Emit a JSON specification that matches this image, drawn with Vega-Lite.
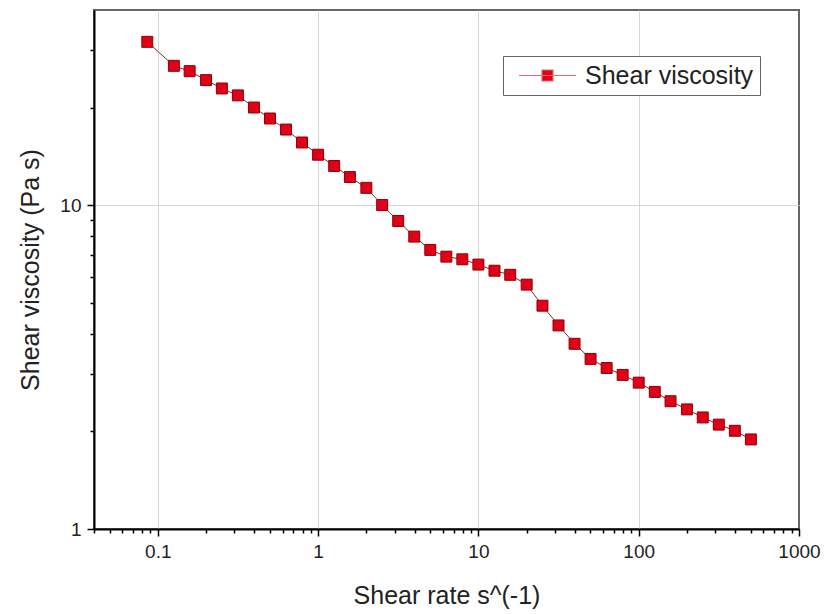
{
  "$schema": "https://vega.github.io/schema/vega-lite/v6.json",
  "width": 705,
  "height": 519,
  "autosize": {"type": "none"},
  "padding": {"left": 94, "top": 10, "right": 26, "bottom": 85},
  "background": "white",
  "config": {
    "font": "Liberation Sans",
    "view": {"stroke": "#666666", "strokeWidth": 2}
  },
  "data": {
    "values": [
      {"rate": 0.086, "visc": 31.9},
      {"rate": 0.126, "visc": 26.9},
      {"rate": 0.158, "visc": 25.9},
      {"rate": 0.2, "visc": 24.3},
      {"rate": 0.251, "visc": 22.9},
      {"rate": 0.316, "visc": 21.8},
      {"rate": 0.398, "visc": 20.0},
      {"rate": 0.501, "visc": 18.5},
      {"rate": 0.631, "visc": 17.1},
      {"rate": 0.794, "visc": 15.6},
      {"rate": 1, "visc": 14.3},
      {"rate": 1.26, "visc": 13.2},
      {"rate": 1.58, "visc": 12.2},
      {"rate": 2, "visc": 11.3},
      {"rate": 2.51, "visc": 10.0},
      {"rate": 3.16, "visc": 8.93},
      {"rate": 3.98, "visc": 7.99},
      {"rate": 5.01, "visc": 7.27},
      {"rate": 6.31, "visc": 6.93},
      {"rate": 7.94, "visc": 6.80},
      {"rate": 10, "visc": 6.55},
      {"rate": 12.6, "visc": 6.27},
      {"rate": 15.8, "visc": 6.09},
      {"rate": 20, "visc": 5.68},
      {"rate": 25.1, "visc": 4.89},
      {"rate": 31.6, "visc": 4.25},
      {"rate": 39.8, "visc": 3.73},
      {"rate": 50.1, "visc": 3.35},
      {"rate": 63.1, "visc": 3.14},
      {"rate": 79.4, "visc": 2.99},
      {"rate": 100, "visc": 2.83},
      {"rate": 126, "visc": 2.65},
      {"rate": 158, "visc": 2.48},
      {"rate": 200, "visc": 2.34},
      {"rate": 251, "visc": 2.21},
      {"rate": 316, "visc": 2.10},
      {"rate": 398, "visc": 2.01},
      {"rate": 501, "visc": 1.89}
    ]
  },
  "encoding": {
    "x": {
      "field": "rate",
      "type": "quantitative",
      "scale": {"type": "log", "domain": [0.04, 1000], "nice": false},
      "axis": {
        "title": "Shear rate s^(-1)",
        "titleFontSize": 25,
        "titleFontWeight": "normal",
        "titleColor": "#222222",
        "titlePadding": 22,
        "values": [0.04, 0.05, 0.06, 0.07, 0.08, 0.09, 0.1, 0.2, 0.3, 0.4, 0.5, 0.6, 0.7, 0.8, 0.9, 1, 2, 3, 4, 5, 6, 7, 8, 9, 10, 20, 30, 40, 50, 60, 70, 80, 90, 100, 200, 300, 400, 500, 600, 700, 800, 900, 1000],
        "format": "~g",
        "labelExpr": "(datum.value == 0.1 || datum.value == 1 || datum.value == 10 || datum.value == 100 || datum.value == 1000) ? datum.label : ''",
        "labelOverlap": false,
        "labelFlush": false,
        "labelFontSize": 19,
        "labelColor": "#222222",
        "labelPadding": 6,
        "domainColor": "#000000",
        "domainWidth": 2,
        "tickColor": "#000000",
        "tickWidth": 1.5,
        "tickSize": {"condition": {"test": "datum.value == 0.1 || datum.value == 1 || datum.value == 10 || datum.value == 100 || datum.value == 1000", "value": 7}, "value": 4},
        "grid": true,
        "gridColor": "#d6d6d6",
        "gridWidth": 1,
        "gridOpacity": {"condition": {"test": "datum.value == 0.1 || datum.value == 1 || datum.value == 10 || datum.value == 100", "value": 1}, "value": 0}
      }
    },
    "y": {
      "field": "visc",
      "type": "quantitative",
      "scale": {"type": "log", "domain": [1, 40], "nice": false},
      "axis": {
        "title": "Shear viscosity (Pa s)",
        "titleFontSize": 25,
        "titleFontWeight": "normal",
        "titleColor": "#222222",
        "titlePadding": 16,
        "values": [1, 2, 3, 4, 5, 6, 7, 8, 9, 10, 20, 30],
        "format": "~g",
        "labelExpr": "(datum.value == 1 || datum.value == 10) ? datum.label : ''",
        "labelOverlap": false,
        "labelFlush": false,
        "labelFontSize": 19,
        "labelColor": "#222222",
        "labelPadding": 6,
        "domainColor": "#000000",
        "domainWidth": 2,
        "tickColor": "#000000",
        "tickWidth": 1.5,
        "tickSize": {"condition": {"test": "datum.value == 1 || datum.value == 10", "value": 7}, "value": 4},
        "grid": true,
        "gridColor": "#d6d6d6",
        "gridWidth": 1,
        "gridOpacity": {"condition": {"test": "datum.value == 10", "value": 1}, "value": 0}
      }
    }
  },
  "layer": [
    {
      "mark": {"type": "line", "color": "#8a2a2a", "strokeWidth": 1}
    },
    {
      "mark": {"type": "point", "shape": "square", "filled": true, "size": 120, "opacity": 1, "stroke": "#8b0000", "strokeWidth": 1},
      "encoding": {
        "color": {
          "datum": "Shear viscosity",
          "scale": {"range": ["#e0001a"]},
          "legend": {
            "title": null,
            "orient": "none",
            "legendX": 409,
            "legendY": 46,
            "padding": 6,
            "strokeColor": "#666666",
            "fillColor": "white",
            "labelFontSize": 25,
            "labelColor": "#222222",
            "labelOffset": 49,
            "labelLimit": 300,
            "symbolType": "M-0.28,0L4.28,0M1.56,-0.44L2.44,-0.44L2.44,0.44L1.56,0.44Z",
            "symbolSize": 625,
            "symbolFillColor": "#e0001a",
            "symbolStrokeColor": "#e06a6a",
            "symbolStrokeWidth": 1.2
          }
        }
      }
    }
  ]
}
